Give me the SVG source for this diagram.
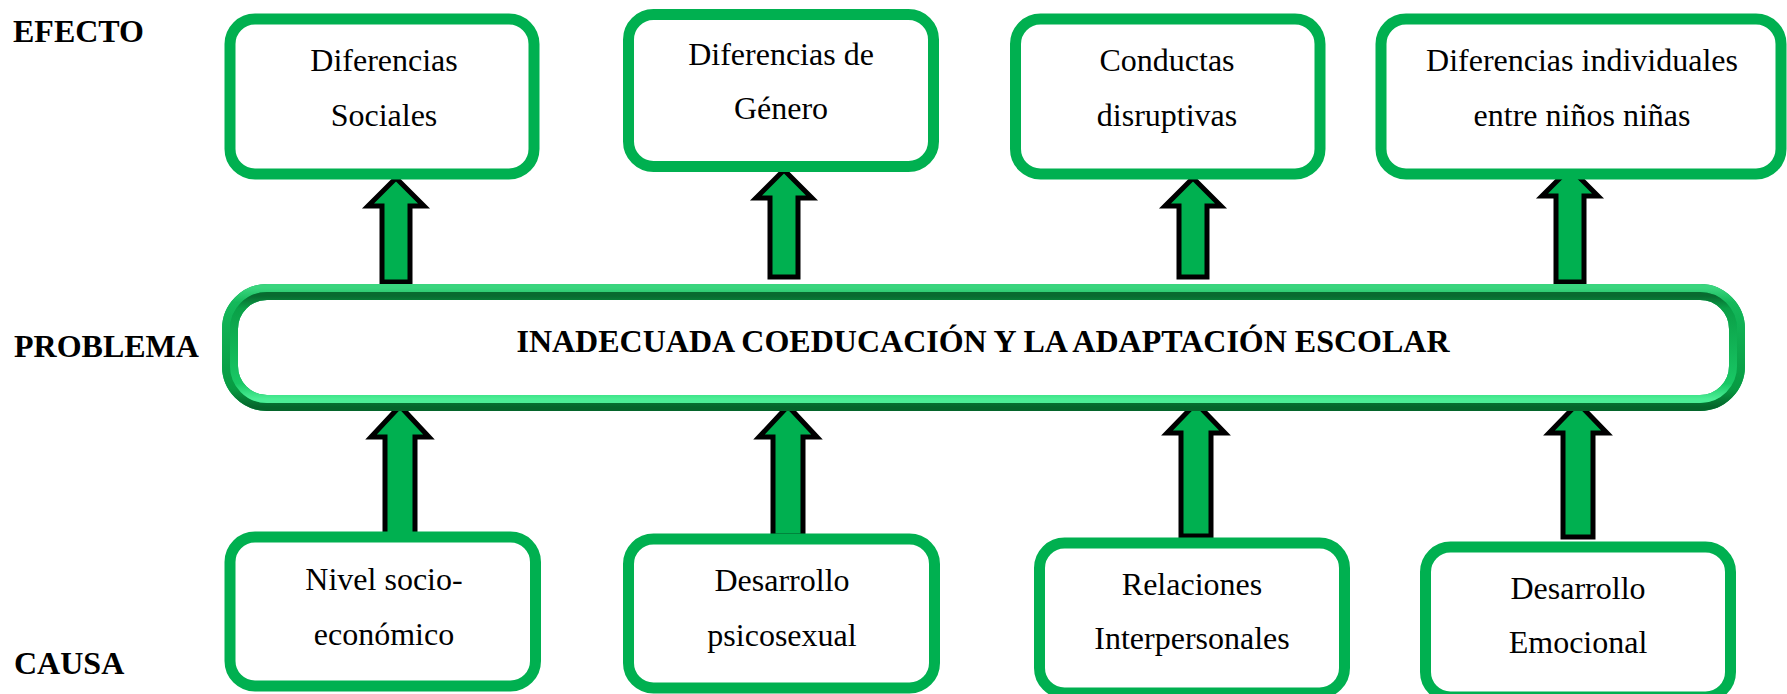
<svg xmlns="http://www.w3.org/2000/svg" width="1787" height="694" viewBox="0 0 1787 694">
<style>
.lbl{font-family:"Liberation Serif","Times New Roman",serif;font-size:32px;font-weight:bold;fill:#000}
.t{font-family:"Liberation Serif","Times New Roman",serif;font-size:32px;fill:#000;text-anchor:middle}
.pt{font-family:"Liberation Serif","Times New Roman",serif;font-size:32px;font-weight:bold;fill:#000;text-anchor:middle}
.box{fill:#fff;stroke:#00B050;stroke-width:11}
.arr{fill:#00B050;stroke:#000;stroke-width:5;stroke-linejoin:miter}
</style>
<defs>
<linearGradient id="gOuter" x1="0" y1="0" x2="0" y2="1">
<stop offset="0" stop-color="#3ad57e"/>
<stop offset="0.12" stop-color="#14b85a"/>
<stop offset="0.85" stop-color="#079a42"/>
<stop offset="1" stop-color="#05652b"/>
</linearGradient>
<linearGradient id="gInner" x1="0" y1="0" x2="0" y2="1">
<stop offset="0" stop-color="#086b30"/>
<stop offset="0.12" stop-color="#0a9f47"/>
<stop offset="0.85" stop-color="#19c865"/>
<stop offset="1" stop-color="#4cee96"/>
</linearGradient>
</defs>
<rect width="1787" height="694" fill="#fff"/>
<g id="labels">
<text class="lbl" x="13" y="42">EFECTO</text>
<text class="lbl" x="14" y="357">PROBLEMA</text>
<text class="lbl" x="14" y="674">CAUSA</text>
</g>
<g id="connectors">
<path class="arr" d="M396,178 L424,206 L410,206 L410,282 L382,282 L382,206 L368,206 Z"/>
<path class="arr" d="M784,170 L812,198 L798,198 L798,277 L770,277 L770,198 L756,198 Z"/>
<path class="arr" d="M1193,178 L1221,206 L1207,206 L1207,277 L1179,277 L1179,206 L1165,206 Z"/>
<path class="arr" d="M1570,168 L1598,196 L1584,196 L1584,282 L1556,282 L1556,196 L1542,196 Z"/>
<path class="arr" d="M400,406 L429,437 L415,437 L415,536 L385,536 L385,437 L371,437 Z"/>
<path class="arr" d="M788,406 L817,437 L803,437 L803,536 L773,536 L773,437 L759,437 Z"/>
<path class="arr" d="M1196,403 L1225,433 L1211,433 L1211,536 L1181,536 L1181,433 L1167,433 Z"/>
<path class="arr" d="M1578,403 L1607,433 L1593,433 L1593,537 L1563,537 L1563,433 L1549,433 Z"/>
</g>
<g id="problem">
<rect x="230" y="292" width="1507" height="111" rx="37" fill="#fff" stroke="#00B050" stroke-width="16"/>
<rect x="226" y="288" width="1515" height="119" rx="41" fill="none" stroke="url(#gOuter)" stroke-width="8"/>
<rect x="234" y="296" width="1499" height="103" rx="33" fill="none" stroke="url(#gInner)" stroke-width="8"/>
<text class="pt" x="983" y="352">INADECUADA COEDUCACIÓN Y LA ADAPTACIÓN ESCOLAR</text>
</g>
<g id="efecto1">
<rect class="box" x="230" y="19" width="304" height="155" rx="25"/>
<text class="t" x="384" y="71">Diferencias</text>
<text class="t" x="384" y="126">Sociales</text>
</g>
<g id="efecto2">
<rect class="box" x="628.5" y="14.5" width="305" height="152" rx="25"/>
<text class="t" x="781" y="65">Diferencias de</text>
<text class="t" x="781" y="119">Género</text>
</g>
<g id="efecto3">
<rect class="box" x="1015.5" y="19" width="304.5" height="155" rx="25"/>
<text class="t" x="1167" y="71">Conductas</text>
<text class="t" x="1167" y="126">disruptivas</text>
</g>
<g id="efecto4">
<rect class="box" x="1381" y="19" width="400" height="155" rx="25"/>
<text class="t" x="1582" y="71">Diferencias individuales</text>
<text class="t" x="1582" y="126">entre niños niñas</text>
</g>
<g id="causa1">
<rect class="box" x="230" y="537" width="305.5" height="149" rx="25"/>
<text class="t" x="384" y="590">Nivel socio-</text>
<text class="t" x="384" y="645">económico</text>
</g>
<g id="causa2">
<rect class="box" x="628.5" y="539" width="306" height="149" rx="25"/>
<text class="t" x="782" y="591">Desarrollo</text>
<text class="t" x="782" y="646">psicosexual</text>
</g>
<g id="causa3">
<rect class="box" x="1039.5" y="543" width="305" height="150" rx="25"/>
<text class="t" x="1192" y="595">Relaciones</text>
<text class="t" x="1192" y="649">Interpersonales</text>
</g>
<g id="causa4">
<rect class="box" x="1425.5" y="547" width="305" height="150" rx="25"/>
<text class="t" x="1578" y="599">Desarrollo</text>
<text class="t" x="1578" y="653">Emocional</text>
</g>
</svg>
